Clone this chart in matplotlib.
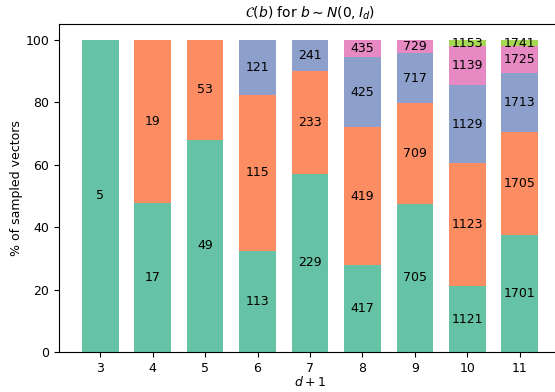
import matplotlib
matplotlib.use("Agg")
import matplotlib.pyplot as plt
import numpy as np

d_plus_1 = [3, 4, 5, 6, 7, 8, 9, 10, 11]

# percentage of each layer (bottom to top) per bar
layer1_pct = [100.0, 47.8, 68.0, 32.4, 57.0, 27.7, 47.5, 21.0, 37.5]
layer2_pct = [0.0, 52.2, 32.0, 50.0, 32.8, 44.2, 32.1, 39.4, 32.8]
layer3_pct = [0.0, 0.0, 0.0, 17.6, 10.2, 22.4, 16.0, 25.0, 19.0]
layer4_pct = [0.0, 0.0, 0.0, 0.0, 0.0, 5.7, 4.4, 12.4, 8.5]
layer5_pct = [0.0, 0.0, 0.0, 0.0, 0.0, 0.0, 0.0, 2.2, 2.2]

layer1_lab = ["5", "17", "49", "113", "229", "417", "705", "1121", "1701"]
layer2_lab = ["", "19", "53", "115", "233", "419", "709", "1123", "1705"]
layer3_lab = ["", "", "", "121", "241", "425", "717", "1129", "1713"]
layer4_lab = ["", "", "", "", "", "435", "729", "1139", "1725"]
layer5_lab = ["", "", "", "", "", "", "", "1153", "1741"]

layers = [layer1_pct, layer2_pct, layer3_pct, layer4_pct, layer5_pct]
labels = [layer1_lab, layer2_lab, layer3_lab, layer4_lab, layer5_lab]
colors = ["#66c2a5", "#fc8d62", "#8da0cb", "#e78ac3", "#a6d854"]

fig = plt.figure(figsize=(5.55, 3.92), dpi=100)
ax = fig.add_axes([59/555, 1-352/392, (561-59)/555, (352-24)/392])

bottom = np.zeros(len(d_plus_1))
for vals, labs, col in zip(layers, labels, colors):
    vals = np.array(vals)
    bars = ax.bar(d_plus_1, vals, width=0.7, bottom=bottom, color=col)
    ax.bar_label(bars, labels=labs, label_type="center", fontsize=9)
    bottom = bottom + vals

ax.set_ylim(0, 105)
ax.set_xlim(2.215, 11.785)
ax.set_xticks(d_plus_1)
ax.set_xlabel("$d+1$", fontsize=9, labelpad=0.5)
ax.set_ylabel("% of sampled vectors", fontsize=9, labelpad=2)
ax.set_title(r"$\mathcal{C}(b)$ for $b \sim N(0, I_d)$", fontsize=10, pad=4.5)
ax.tick_params(labelsize=9)
ax.spines["right"].set_visible(False)

fig.savefig("out.png", dpi=100)
